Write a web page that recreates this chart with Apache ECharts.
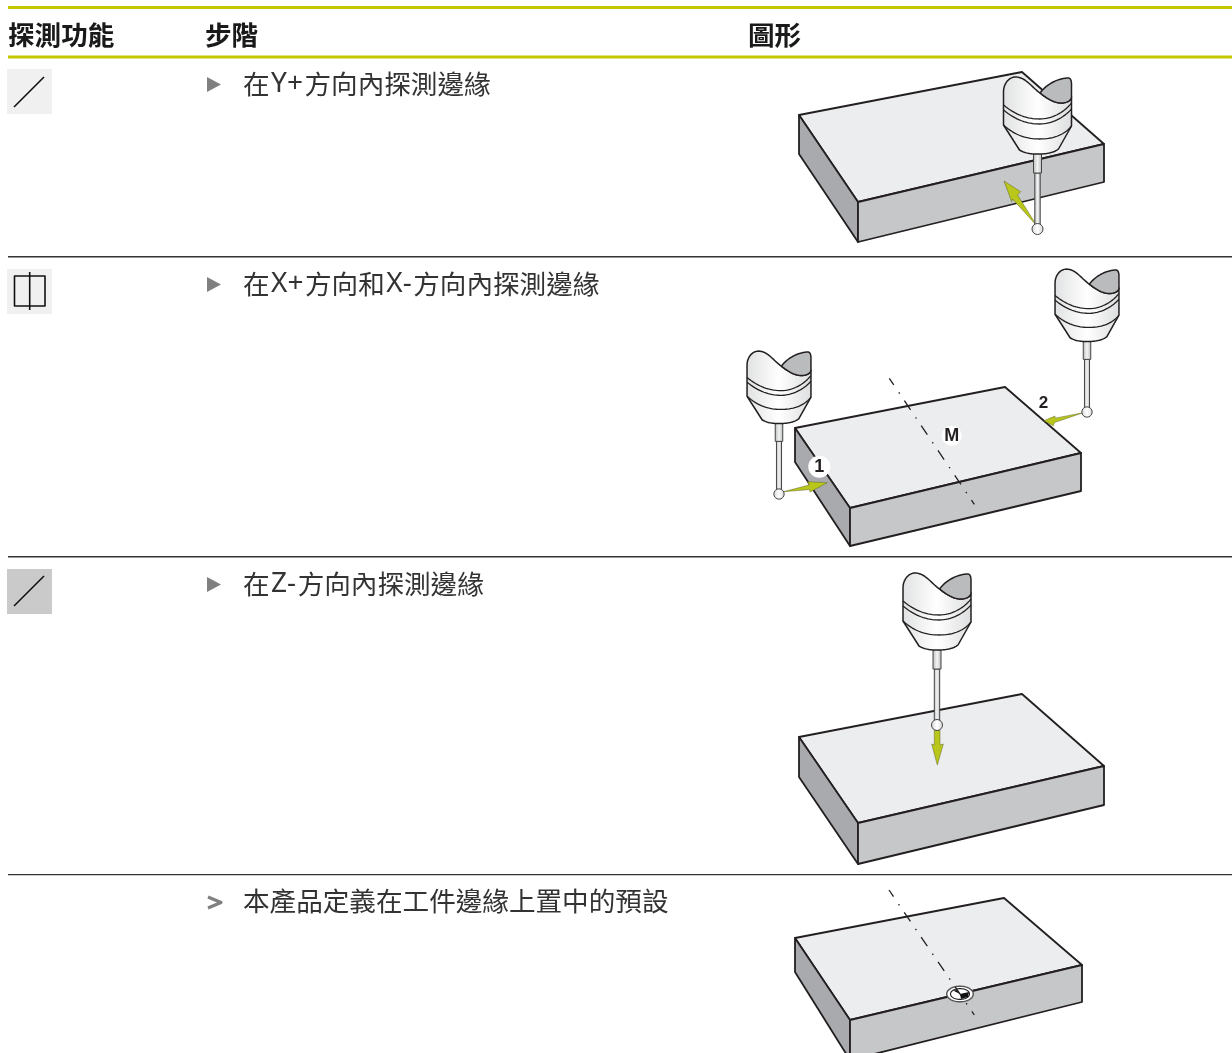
<!DOCTYPE html>
<html><head><meta charset="utf-8">
<style>html,body{margin:0;padding:0;background:#fff}#c{width:1232px;height:1053px}</style>
<script src="https://cdn.jsdelivr.net/npm/echarts@6/dist/echarts.min.js"></script>
</head><body><div id="c"></div>
<script>
// ---- text ----
const headers = [['探測功能', 8], ['步階', 205], ['圖形', 748]];
const steps = [['在{l|Y+}方向內探測邊緣', 84], ['在{l|X+}方向和{l|X-}方向內探測邊緣', 284], ['在{l|Z-}方向內探測邊緣', 584], ['本產品定義在工件邊緣上置中的預設', 901]];
const greenRules = [7.5, 57];
const darkRules = [256.7, 556.7, 874.6];
// ---- blocks: top face, left face, front face ----
const block1Top = [[799,115],[1022,72],[1104,144],[858,202]];
const block1Left = [[799,115],[858,202],[858,242],[799,154]];
const block1Front = [[858,202],[1104,144],[1104,182],[858,242]];
const block2Top = [[795,428],[1005,387],[1081,453],[850,508]];
const block2Left = [[795,428],[850,508],[850,546],[795,462]];
const block2Front = [[850,508],[1081,453],[1081,491],[850,546]];
const block3Top = [[799,737],[1022,694],[1104,766],[858,823]];
const block3Left = [[799,737],[858,823],[858,864],[799,777]];
const block3Front = [[858,823],[1104,766],[1104,805],[858,864]];
const block4Top = [[795,938],[1004,898],[1082,965],[850,1020]];
const block4Left = [[795,938],[850,1020],[850,1060],[795,972]];
const block4Front = [[850,1020],[1082,965],[1082,1002],[850,1060]];
// ---- arrows ----
const arrow1 = [[1004,181],[1020.7,191.7],[1017.5,195],[1037,226],[1012.5,199],[1011.7,201.7]];
const arrow2 = [[827.3,482.7],[807.7,481.7],[809.3,485],[783.3,491.7],[809.6,489.5],[810,492]];
const arrow3 = [[1044,420.7],[1055,416],[1055,418.2],[1083.3,412.7],[1054.4,422.5],[1053.3,425.7]];
const arrow4 = [[937.3,765],[931.7,744],[934.3,745],[934.3,730],[940,730],[940,745],[943.3,744]];
// ---- probes: ball x, ball y, scale ----
const probes = [[1037.5,229,1],[779,494,0.94],[1087,412,0.94],[937,725,1]];
// ---- centre lines ----
const centre2 = [[889.3,378.3],[974.3,504.3]];
const centre4 = [[889,890],[974.3,1015]];
// ---- probe outline, relative to the ball ----
const probeBody = [['M',-34,-104],['L',-34,-137],['C',-34,-146,-28,-152,-22,-152],['C',-12,-152,-6,-142,2.5,-136],['C',9,-131,16,-126,24,-126],['C',28,-126,34,-128,34,-132],['L',34,-103],['L',21,-80],['C',16,-76,8,-75,0,-75],['C',-8,-75,-13,-76,-18,-79]];
const probeBack = [['M',2.5,-136],['C',10,-146,22,-151,31,-151],['C',33,-151,34,-148,34,-145],['L',34,-132],['C',34,-128,28,-126,24,-126],['C',16,-126,9,-131,2.5,-136]];
const probeArcs = [
  [['M',-34,-124],['C',-22,-114,-10,-110,2,-110],['C',14,-110,26,-116,34,-126]],
  [['M',-34,-119],['C',-22,-109,-10,-105,2,-105],['C',14,-105,26,-111,34,-120]],
  [['M',-34,-104],['C',-22,-93,-10,-90,2,-90],['C',14,-90,26,-93,34,-103]]
];
const stemWide = [[-4,-77],[4,-77],[4,-56],[-4,-56]];
const stemThin = [[-2.7,-56],[2.7,-56],[2.7,-4],[-2.7,-4]];
// ---- icons ----
const iconBoxes = [[7,69,'#f0f0f0'],[7,269,'#f0f0f0'],[7,569,'#cacaca']];
const iconLines = [[[14,107],[44,77]],[[14,606],[44,576]],[[29.7,272],[29.7,310]]];
const iconRect = [[14.5,276],[45,276],[45,306],[14.5,306]];
const bulletRows = [77,277,577];
const chevron = [[208,897],[221,902.5],[208,908]];
// ---- target ----
const target = [960,994];
const wedge = [[960,994],[969,992],[968,997],[961,999]];
const wedge2 = [[960,994],[953,990.5],[957,990]];

const INK='#231f20', TOP='#ecedef', LEFT='#a9aaae', FRONT='#c5c7c9', GREEN='#b9c61a', LIME='#c4c800';
const CJK='"Noto Sans CJK TC",sans-serif';
const grad=(a,b,c)=>({type:'linear',x:0,y:0,x2:1,y2:0,colorStops:[{offset:0,color:a},{offset:.5,color:b},{offset:1,color:c}]});

function flatten(cmds,ox,oy,s){
  const out=[];let cur=[0,0];
  for(const c of cmds){
    if(c[0]==='M'||c[0]==='L'){cur=[c[1],c[2]];out.push(cur);}
    else{const p0=cur,p1=[c[1],c[2]],p2=[c[3],c[4]],p3=[c[5],c[6]];
      for(let i=1;i<=16;i++){const t=i/16,u=1-t;
        out.push([u*u*u*p0[0]+3*u*u*t*p1[0]+3*u*t*t*p2[0]+t*t*t*p3[0],u*u*u*p0[1]+3*u*u*t*p1[1]+3*u*t*t*p2[1]+t*t*t*p3[1]]);}
      cur=p3;}
  }
  return out.map(p=>[ox+p[0]*s,oy+p[1]*s]);
}
function renderItem(params,api){
  const kids=[];
  const P=a=>a.map(p=>api.coord(p));
  const poly=(pts,fill,stroke,lw)=>kids.push({type:'polygon',shape:{points:P(pts)},style:{fill:fill,stroke:stroke||null,lineWidth:lw||0,lineJoin:'round'}});
  const line=(pts,stroke,lw,dash,off)=>kids.push({type:'polyline',shape:{points:P(pts)},style:{fill:null,stroke:stroke,lineWidth:lw,lineDash:dash||null,lineDashOffset:off||0,lineJoin:'round'}});
  const text=(t,x,y,font,fill,align,rich)=>{const q=api.coord([x,y]);const st={text:t,x:q[0],y:q[1],font:font,fill:fill,align:align||'left',verticalAlign:'middle'};if(rich)st.rich=rich;kids.push({type:'text',style:st});};
  const disc=(x,y,r,fill,stroke,lw)=>{const q=api.coord([x,y]);kids.push({type:'circle',shape:{cx:q[0],cy:q[1],r:r},style:{fill:fill,stroke:stroke||null,lineWidth:lw||0}});};
  const block=(t,l,f)=>{poly(t,TOP,INK,1.8);poly(l,LEFT,INK,1.8);poly(f,FRONT,INK,1.8);};
  const probe=(b)=>{
    const [x,y,s]=b, R=a=>a.map(p=>[x+p[0]*s,y+p[1]*s]);
    poly(R(stemThin),grad('#b5b7b9','#f4f4f4','#b5b7b9'),'#444444',1);
    poly(R(stemWide),grad('#b5b7b9','#f4f4f4','#b5b7b9'),'#444444',1);
    disc(x,y,5.5*s,grad('#d5d5d5','#ffffff','#d5d5d5'),'#444444',1);
    poly(flatten(probeBody,x,y,s),grad('#e0e1e2','#ffffff','#dcdddE'),INK,1.5);
    poly(flatten(probeBack,x,y,s),'#b9bbbd',INK,1.5);
    probeArcs.forEach(a=>line(flatten(a,x,y,s),INK,1.3));
  };
  // table
  greenRules.forEach(y=>line([[8,y],[1232,y]],LIME,3));
  darkRules.forEach(y=>line([[8,y],[1232,y]],'#333333',1.4));
  headers.forEach(h=>text(h[0],h[1],34.5,'bold 26.6px '+CJK,'#1a1a1a'));
  const latin={l:{font:'28px "Noto Sans",sans-serif',fill:'#333333',verticalAlign:'middle',padding:[0,1.5,0,1.5]}};
  steps.forEach(s=>text(s[0],243,s[1],'26.6px '+CJK,'#333333','left',latin));
  // icons
  iconBoxes.forEach(b=>poly([[b[0],b[1]],[b[0]+45,b[1]],[b[0]+45,b[1]+45],[b[0],b[1]+45]],b[2]));
  iconLines.forEach(l=>line(l,'#111111',1.6));
  poly(iconRect,'rgba(0,0,0,0)','#111111',1.6);
  // bullets
  bulletRows.forEach(y=>poly([[207,y],[221,y+7.5],[207,y+15]],'#808080'));
  line(chevron,'#808080',3.2);
  // row 1
  block(block1Top,block1Left,block1Front);
  poly(arrow1,GREEN,'#5f6420',0.5);
  probe(probes[0]);
  // row 2
  block(block2Top,block2Left,block2Front);
  line(centre2,INK,1.3,[11,9,1.5,8.5],3);
  disc(951.7,435.7,10,'#ffffff');
  disc(819.3,466.7,11,'#ffffff');
  poly(arrow2,GREEN,'#5f6420',0.5);
  poly(arrow3,GREEN,'#5f6420',0.5);
  probe(probes[1]);probe(probes[2]);
  text('M',951.7,436,'bold 18px "Liberation Sans"',INK,'center');
  text('1',819.3,467,'bold 18px "Liberation Sans"',INK,'center');
  text('2',1043.5,403,'bold 17px "Liberation Sans"',INK,'center');
  // row 3
  block(block3Top,block3Left,block3Front);
  poly(arrow4,GREEN,'#5f6420',0.5);
  probe(probes[3]);
  // row 4
  block(block4Top,block4Left,block4Front);
  const [tx,ty]=target;
  const ell=(rx,ry)=>{const k=.5523;return [['M',rx,0],['C',rx,ry*k,rx*k,ry,0,ry],['C',-rx*k,ry,-rx,ry*k,-rx,0],['C',-rx,-ry*k,-rx*k,-ry,0,-ry],['C',rx*k,-ry,rx,-ry*k,rx,0]];};
  poly(flatten(ell(13.3,7.8),tx,ty,1),'#ffffff','#555555',1.4);
  poly(flatten(ell(9.5,5.4),tx,ty,1),'#ffffff',INK,1.1);
  poly(wedge,'#111111');poly(wedge2,'#111111');
  line(centre4,INK,1.3,[11,9,1.5,8.5],3);
  return {type:'group',children:kids};
}
const chart=echarts.init(document.getElementById('c'),null,{renderer:'canvas'});
chart.setOption({
  animation:false,backgroundColor:'#ffffff',
  grid:{left:0,right:0,top:0,bottom:0},
  xAxis:{type:'value',min:0,max:1232,show:false},
  yAxis:{type:'value',min:0,max:1053,inverse:true,show:false},
  series:[{type:'custom',coordinateSystem:'cartesian2d',clip:true,silent:true,data:[[0,0]],renderItem:renderItem}]
});
</script></body></html>
